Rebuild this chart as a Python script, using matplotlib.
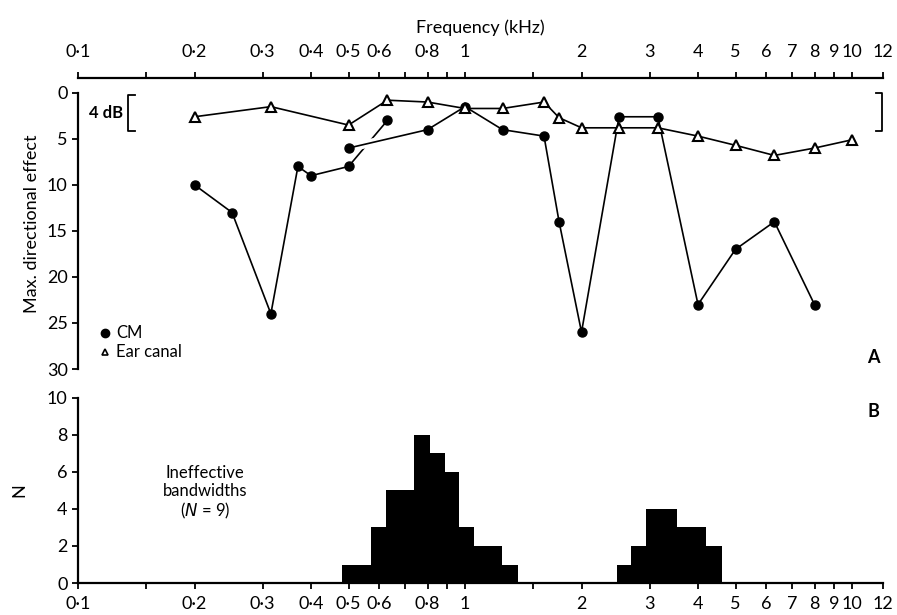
import numpy as np
import matplotlib.pyplot as plt

plt.rcParams['font.family'] = ['Lato', 'DejaVu Sans']

# --- data ---
# CM, first run (0.2 - 0.63 kHz)
cm1_freq = [0.2, 0.25, 0.315, 0.37, 0.4, 0.5, 0.63]
cm1_db = [10, 13, 24, 8, 9, 8, 3]
# CM, second run (0.5 - 8 kHz)
cm2_freq = [0.5, 0.8, 1.0, 1.25, 1.6, 1.75, 2.0, 2.5, 3.15, 4.0, 5.0, 6.3, 8.0]
cm2_db = [6, 4, 1.5, 4, 4.7, 14, 26, 2.6, 2.6, 23, 17, 14, 23]
# ear canal
ear_freq = [0.2, 0.315, 0.5, 0.63, 0.8, 1.0, 1.25, 1.6, 1.75, 2.0, 2.5, 3.15, 4.0, 5.0, 6.3, 8.0, 10.0]
ear_db = [2.6, 1.5, 3.5, 0.8, 1.0, 1.7, 1.7, 1.0, 2.7, 3.8, 3.8, 3.8, 4.7, 5.7, 6.8, 6.0, 5.1]

# histogram of ineffective bandwidths
bin_edges = [0.481, 0.571, 0.625, 0.738, 0.812, 0.888, 0.965, 1.055, 1.246, 1.37,
             2.47, 2.69, 2.94, 3.53, 4.19, 4.61]
bin_counts = [1, 3, 5, 8, 7, 6, 3, 2, 1, 0, 1, 2, 4, 3, 2]

tick_freqs = [0.1, 0.15, 0.2, 0.3, 0.4, 0.5, 0.6, 0.7, 0.8, 0.9, 1, 1.5, 2, 3, 4, 5, 6, 7, 8, 9, 10, 12]
tick_labels = ['0·1', '', '0·2', '0·3', '0·4', '0·5', '0·6', '', '0·8', '', '1', '',
               '2', '3', '4', '5', '6', '7', '8', '9', '10', '12']

fig = plt.figure(figsize=(8.97, 6.15), dpi=100)
ax1 = fig.add_axes([0.087, 0.400, 0.897, 0.473])
ax2 = fig.add_axes([0.087, 0.052, 0.897, 0.301])

lw = 1.2
for ax in (ax1, ax2):
    ax.set_xscale('log')
    ax.set_xlim(0.1, 12)
    ax.set_xticks(tick_freqs)
    ax.set_xticklabels(tick_labels)
    ax.minorticks_off()
    ax.tick_params(width=1.3, length=4, labelsize=13)
    for s in ax.spines.values():
        s.set_linewidth(1.6)
    ax.spines['right'].set_visible(False)

# --- panel A ---
ax1.xaxis.set_ticks_position('top')
ax1.xaxis.set_label_position('top')
ax1.spines['bottom'].set_visible(False)
ax1.tick_params(axis='x', pad=9)
ax1.set_ylim(30, -1.6)
ax1.set_yticks([0, 5, 10, 15, 20, 25, 30])
ax1.spines['left'].set_bounds(0, 30)
ax1.set_xlabel('Frequency (kHz)', fontsize=13, labelpad=8)
ax1.set_ylabel('Max. directional effect', fontsize=13, labelpad=5)

ax1.plot(cm1_freq, cm1_db, color='black', lw=lw, marker='o', ms=6.5, zorder=3)
# white gap where the second CM run crosses the first
ax1.plot(cm2_freq[:2], cm2_db[:2], color='white', lw=6, solid_capstyle='butt', zorder=3.5)
ax1.plot(cm2_freq, cm2_db, color='black', lw=lw, marker='o', ms=6.5, zorder=4)
ax1.plot(ear_freq, ear_db, color='black', lw=lw, marker='^', ms=7.5,
         markerfacecolor='white', markeredgewidth=1.5, zorder=5)

# 4 dB scale bars
ax1.plot([0.1404, 0.1346, 0.1346, 0.1404], [0.2, 0.2, 4.2, 4.2], color='black', lw=1.3, clip_on=False)
ax1.text(0.1305, 2.2, '4 dB', ha='right', va='center', fontsize=12, fontweight='bold')
ax1.plot([11.55, 11.95, 11.95, 11.55], [0.0, 0.0, 4.1, 4.1], color='black', lw=1.3, clip_on=False)

# legend
ax1.plot([0.034], [0.124], 'o', color='black', ms=6, transform=ax1.transAxes, clip_on=False)
ax1.text(0.047, 0.124, 'CM', transform=ax1.transAxes, va='center', fontsize=12)
ax1.plot([0.034], [0.058], '^', color='black', ms=5, markerfacecolor='white',
         markeredgewidth=1.2, transform=ax1.transAxes, clip_on=False)
ax1.text(0.047, 0.058, 'Ear canal', transform=ax1.transAxes, va='center', fontsize=12)
ax1.text(0.988, 0.041, 'A', transform=ax1.transAxes, ha='center', va='center',
         fontsize=13, fontweight='bold')

# --- panel B ---
ax2.spines['top'].set_visible(False)
ax2.tick_params(axis='x', pad=5)
ax2.set_ylim(0, 10)
ax2.set_yticks([0, 2, 4, 6, 8, 10])
ax2.set_ylabel('N', fontsize=13, labelpad=14)
ax2.stairs(bin_counts, bin_edges, fill=True, color='black')
ax2.text(0.158, 0.486, 'Ineffective\nbandwidths\n($N$ = 9)', transform=ax2.transAxes,
         ha='center', va='center', fontsize=12, linespacing=1.15)
ax2.text(0.988, 0.924, 'B', transform=ax2.transAxes, ha='center', va='center',
         fontsize=13, fontweight='bold')

fig.savefig('out.png', dpi=100)
